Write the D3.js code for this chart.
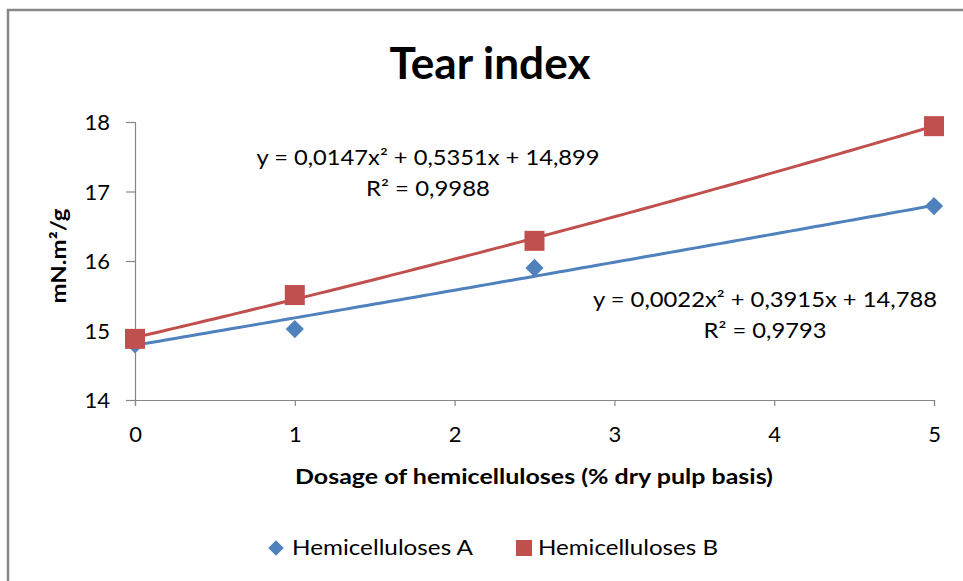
<!DOCTYPE html>
<html>
<head>
<meta charset="utf-8">
<script src="https://cdn.jsdelivr.net/npm/d3@7"></script>
<style>
  body { margin: 0; background: #fff; }
  text { font-family: Lato, "Open Sans", sans-serif; fill: #000; }
</style>
</head>
<body>
<div id="chart"></div>
<script>
// data
const dosage = [0, 1, 2.5, 5];
const hemiA = [14.8, 15.02, 15.9, 16.79];
const hemiB = [14.88, 15.51, 16.29, 17.94];
const xTicks = [0, 1, 2, 3, 4, 5];
const yTicks = [14, 15, 16, 17, 18];
// trendline coefficients as printed: c0 + c1*x + c2*x^2
const trendA = [14.788, 0.3915, 0.0022];
const trendB = [14.899, 0.5351, 0.0147];
const eqA = ["y = 0,0022x² + 0,3915x + 14,788", "R² = 0,9793"];
const eqB = ["y = 0,0147x² + 0,5351x + 14,899", "R² = 0,9988"];

const width = 963, height = 581;
const blue = "#4F81BD", red = "#C0504D", axisColor = "#868686";

let svg = d3.select("#chart").append("svg")
    .attr("width", width)
    .attr("height", height);

// outer chart frame (only top and left edges visible)
svg.append("path")
    .attr("d", "M8,581 V10 H963")
    .attr("fill", "none")
    .attr("stroke", "#878787")
    .attr("stroke-width", 2.5);

let x = d3.scaleLinear().domain([0, 5]).range([135, 934]);
let y = d3.scaleLinear().domain([14, 18]).range([400, 122]);

// small helper: text stretched to the width measured on the picture
function label(px, py, s, size, len, opts) {
    opts = opts || {};
    let t = svg.append("text")
        .attr("x", px).attr("y", py)
        .attr("text-anchor", opts.anchor || "middle")
        .style("font-size", size + "px")
        .style("font-weight", opts.bold ? "bold" : "normal")
        .text(s);
    if (len) t.attr("textLength", len).attr("lengthAdjust", "spacingAndGlyphs");
    if (opts.transform) t.attr("transform", opts.transform);
    return t;
}

// title
label(490, 79, "Tear index", 44, 201, {bold: true});

// axes
let xAxis = svg.append("g")
    .attr("transform", "translate(0," + y(14) + ")")
    .call(d3.axisBottom(x).tickValues(xTicks).tickSize(6).tickPadding(20).tickFormat(d3.format("d")));
let yAxis = svg.append("g")
    .attr("transform", "translate(" + x(0) + ",0)")
    .call(d3.axisLeft(y).tickValues(yTicks).tickSize(9).tickPadding(16).tickFormat(d3.format("d")));
[xAxis, yAxis].forEach(function (g) {
    g.select(".domain").attr("stroke", axisColor).attr("stroke-width", 1.2);
    g.selectAll(".tick line").attr("stroke", axisColor).attr("stroke-width", 1.2);
    g.selectAll(".tick text").style("font-size", "22px").style("font-family", "Lato, sans-serif").attr("fill", "#000");
});
yAxis.selectAll(".tick text").attr("dy", "0.36em");

// axis titles
label(534, 484, "Dosage of hemicelluloses (% dry pulp basis)", 20, 478, {bold: true});
label(0, 0, "mN.m²/g", 20, 95, {bold: true, transform: "translate(66,256) rotate(-90)"});

// trendlines
let xs = d3.range(0, 5.0001, 0.05);
function poly(c) {
    return function (v) { return c[0] + c[1] * v + c[2] * v * v; };
}
let line = d3.line()
    .x(function (d) { return x(d[0]); })
    .y(function (d) { return y(d[1]); });
[[trendA, blue], [trendB, red]].forEach(function (t) {
    let f = poly(t[0]);
    svg.append("path")
        .datum(xs.map(function (v) { return [v, f(v)]; }))
        .attr("fill", "none")
        .attr("stroke", t[1])
        .attr("stroke-width", 3)
        .attr("d", line);
});

// markers
let diamond = d3.symbol().type(d3.symbolSquare).size(165);
let square = d3.symbol().type(d3.symbolSquare).size(400);
svg.append("g").selectAll("path")
    .data(dosage.map(function (d, i) { return [d, hemiA[i]]; }))
    .join("path")
    .attr("d", diamond)
    .attr("fill", blue)
    .attr("transform", function (d) { return "translate(" + x(d[0]) + "," + y(d[1]) + ") rotate(45)"; });
svg.append("g").selectAll("path")
    .data(dosage.map(function (d, i) { return [d, hemiB[i]]; }))
    .join("path")
    .attr("d", square)
    .attr("fill", red)
    .attr("transform", function (d) { return "translate(" + x(d[0]) + "," + y(d[1]) + ")"; });

// equation labels
label(428, 165, eqB[0], 21, 343);
label(428, 196, eqB[1], 21, 124);
label(765, 307, eqA[0], 21, 344);
label(765, 338, eqA[1], 21, 123);

// legend
svg.append("path")
    .attr("d", d3.symbol().type(d3.symbolSquare).size(120))
    .attr("fill", blue)
    .attr("transform", "translate(276,548) rotate(45)");
label(292, 555, "Hemicelluloses A", 21, 181, {anchor: "start"});
svg.append("rect")
    .attr("x", 516).attr("y", 540).attr("width", 16).attr("height", 16)
    .attr("fill", red);
label(538, 555, "Hemicelluloses B", 21, 180, {anchor: "start"});
</script>
</body>
</html>
